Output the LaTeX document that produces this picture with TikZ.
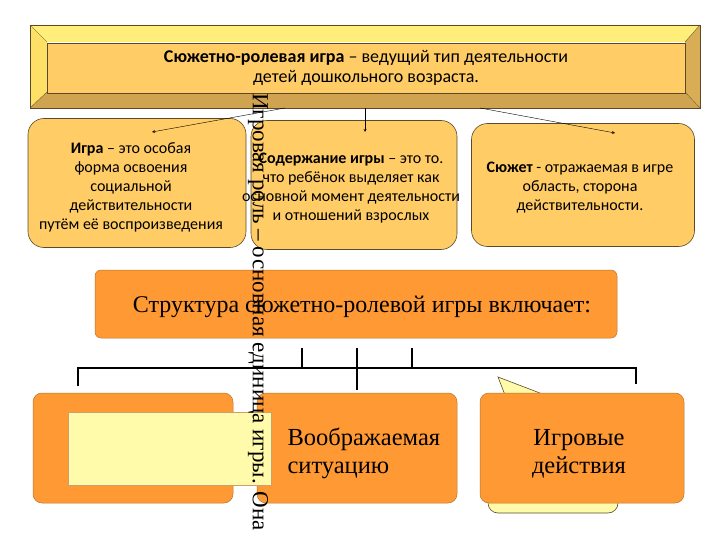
\documentclass[tikz,border=0pt]{standalone}
\usepackage{fontspec}
\setmainfont{Liberation Serif}
\newfontfamily\calibri{Carlito}
\definecolor{faceorange}{HTML}{FFCC66}
\definecolor{bevtop}{HTML}{FFEE7A}
\definecolor{bevleft}{HTML}{FFE066}
\definecolor{bevbot}{HTML}{CFA350}
\definecolor{bevright}{HTML}{D9AD55}
\definecolor{boxedge}{HTML}{5A4A2A}
\definecolor{darkorange}{HTML}{FF9933}
\definecolor{orangeedge}{HTML}{B8762E}
\definecolor{paleyellow}{HTML}{FFFBAA}

\begin{document}
\begin{tikzpicture}[x=1pt,y=-1pt,
  lightbox/.style={draw=boxedge, fill=faceorange, rounded corners=16pt, line width=0.6pt},
  lighttext/.style={align=center, font=\calibri\fontsize{16}{19}\selectfont},
  orangebox/.style={draw=orangeedge, fill=darkorange, rounded corners=9pt, line width=0.5pt},
  bigtext/.style={font=\fontsize{24.5}{28}\selectfont},
  bracket/.style={line width=1.6pt, black},
  >=stealth]
\useasboundingbox (0,0) rectangle (720,540);
% Banner:
\fill[bevtop] (30,25) -- (700,25) -- (685,42) -- (47,42) -- cycle;
\fill[bevleft] (30,25) -- (47,42) -- (47,92) -- (30,108) -- cycle;
\fill[bevbot] (30,108) -- (47,92) -- (685,92) -- (700,108) -- cycle;
\fill[bevright] (700,25) -- (685,42) -- (685,92) -- (700,108) -- cycle;
\draw[boxedge, line width=0.5pt] (30,25) rectangle (700,108);
\draw[boxedge, line width=0.3pt] (30,25) -- (47,42) (700,25) -- (685,42) (30,108) -- (47,92) (700,108) -- (685,92);
\node (banner) [draw=boxedge, line width=0.3pt, fill=faceorange, minimum width=638pt, minimum height=50pt, inner sep=0pt, align=center, font=\calibri\fontsize{18}{20}\selectfont] at (366,68) {\textbf{Сюжетно-ролевая игра} – ведущий тип деятельности\\детей дошкольного возраста.};
% Definitions:
\node (game) [lightbox, minimum width=218pt, minimum height=129pt] at (137,183) {};
\node (gametext) [lighttext] at (131,187) {\textbf{Игра} – это особая\\форма освоения\\социальной\\действительности\\путём её воспроизведения};
\node (content) [lightbox, minimum width=206pt, minimum height=129pt] at (354,185) {};
\node (contenttext) [lighttext] at (351,188) {\textbf{Содержание игры} – это то.\\что ребёнок выделяет как\\основной момент деятельности\\и отношений взрослых};
\node (plot) [lightbox, minimum width=223pt, minimum height=123pt] at (583,185) {};
\node (plottext) [lighttext] at (580,188) {\textbf{Сюжет} - отражаемая в игре\\область, сторона\\действительности.};
\coordinate (fromL) at (285,108);
\coordinate (fromM) at (365,108);
\coordinate (fromR) at (480,108);
\coordinate (toL) at (152,132);
\coordinate (toM) at (365,132);
\coordinate (toR) at (615,133);
\draw[->] (fromL) -- (toL);
\draw[->] (fromM) -- (toM);
\draw[->] (fromR) -- (toR);
% Structure:
\node (struct) [orangebox, rounded corners=6pt, minimum width=522pt, minimum height=68pt] at (356,304) {};
\node (structtext) [font=\fontsize{24}{28}\selectfont] at (362,307) {Структура сюжетно-ролевой игры включает:};
\draw[bracket] (78,386) -- (78,368) -- (636,368) -- (636,384);
\draw[bracket] (357,348) -- (357,390);
\draw[bracket] (302,348) -- (302,368);
\draw[bracket] (412,348) -- (412,368);
% Callout behind the last box:
\draw[boxedge, fill=paleyellow, line width=0.6pt, rounded corners=10pt] (488,405) -- (488,513) -- (618,513) -- (618,405) -- cycle;
\draw[boxedge, fill=paleyellow, line width=0.6pt] (505,395) -- (498,377) -- (545,395);
% Parts:
\node (role) [orangebox, minimum width=200pt, minimum height=110pt] at (133,448) {};
\node (situation) [orangebox, minimum width=200pt, minimum height=110pt] at (357,448) {};
\node (sittext) [bigtext, anchor=west, align=left] at (284,453) {Воображаемая\\ситуацию};
\node (actions) [orangebox, minimum width=204pt, minimum height=110pt] at (582,448) {};
\node (acttext) [bigtext, align=center] at (579,454) {Игровые\\действия};
\node (note) [draw=orangeedge!70, line width=0.4pt, fill=paleyellow, minimum width=203pt, minimum height=73pt] at (169.5,448.5) {};
% Vertical text:
\node (unit) [rotate=-90, font=\fontsize{23}{26}\selectfont] at (258,312) {Игровая роль – основная единица игры. Она};
\end{tikzpicture}
\end{document}
